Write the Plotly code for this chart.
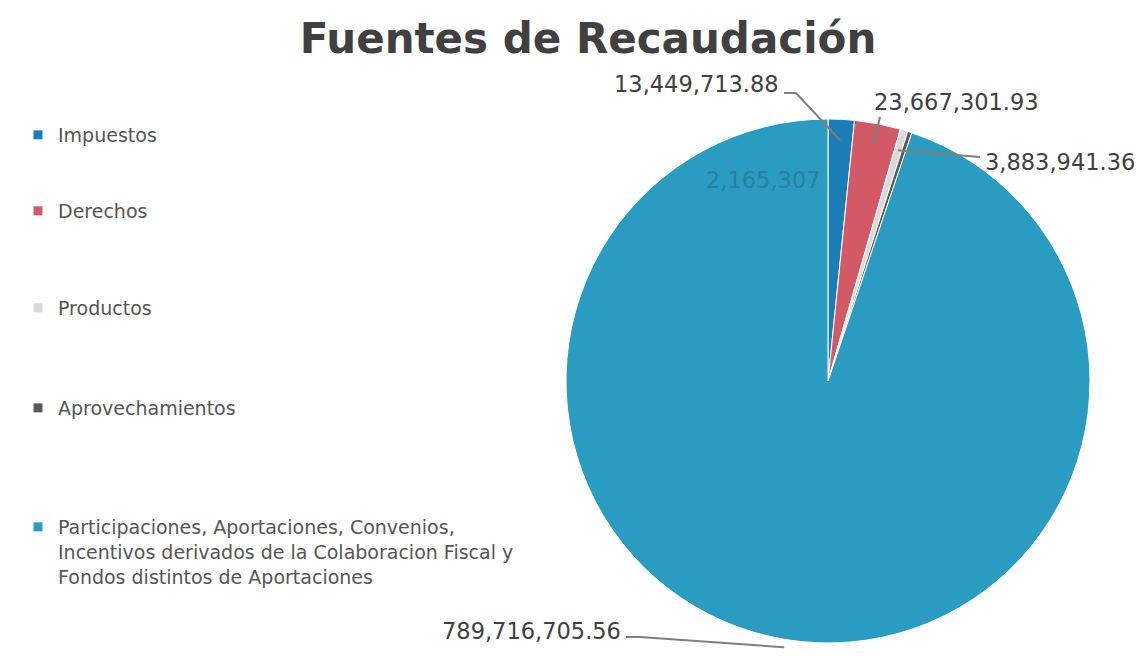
import math
import plotly.graph_objects as go

# ---------------- data ----------------
categories = [
    "Impuestos",
    "Derechos",
    "Productos",
    "Aprovechamientos",
    "Participaciones, Aportaciones, Convenios,<br>Incentivos derivados de la Colaboracion Fiscal y<br>Fondos distintos de Aportaciones",
]
values = [13449713.88, 23667301.93, 3883941.36, 2165307.00, 789716705.56]
value_labels = ["13,449,713.88", "23,667,301.93", "3,883,941.36", "2,165,307", "789,716,705.56"]
colors = ["#1b7db8", "#d25a67", "#d9d9d9", "#595959", "#2a9cc2"]

title_text = "Fuentes de Recaudación"

# ---------------- layout geometry (pixels) ----------------
W, H = 1141, 658
cx, cy, R = 828, 381, 262

def px2paper(x, y):
    return x / W, 1 - y / H

fig = go.Figure()

fig.add_trace(go.Pie(
    labels=categories,
    values=values,
    sort=False,
    direction="clockwise",
    rotation=0,
    marker=dict(colors=colors, line=dict(color="white", width=1)),
    textinfo="none",
    hoverinfo="label+value+percent",
    showlegend=False,
    domain=dict(x=[(cx - R) / W, (cx + R) / W], y=[1 - (cy + R) / H, 1 - (cy - R) / H]),
))

# legend entries as separate legends to match spacing
legend_pos = [(135, "middle", "middle"), (211, "middle", "middle"), (308, "middle", "middle"),
              (408, "middle", "middle"), (508, "top", "top")]
legend_font = dict(family="DejaVu Sans", size=19, color="#555555")
for i, (cat, col) in enumerate(zip(categories, colors)):
    name = "legend" if i == 0 else f"legend{i+1}"
    fig.add_trace(go.Scatter(
        x=[None], y=[None], mode="markers", name=cat,
        marker=dict(symbol="square", size=9, color=col),
        legend=name, showlegend=True, hoverinfo="skip",
    ))
    ypx, yanc, valign = legend_pos[i]
    fig.layout[name] = dict(
        x=18 / W, xanchor="left", y=1 - ypx / H, yanchor=yanc,
        font=legend_font, valign=valign, bgcolor="rgba(0,0,0,0)",
        itemclick=False, itemdoubleclick=False,
    )

# value labels with leader lines; tips computed from data angles
total = sum(values)
mids = []
cum = 0.0
for v in values:
    mids.append((cum + v / 2) / total * 2 * math.pi)
    cum += v

# (text x, text y, xanchor, line start x, y, elbow x, tip radius fraction)
label_specs = {
    0: (781, 84, "right", 784, 93, 796, 0.92),
    1: (872, 102, "left", 880, 117, 880, 0.92),
    2: (983, 162, "left", 980, 157, 980, 0.92),
    4: (623, 631, "right", 626, 637, 640, 1.03),
}
line_color = "#7f7f7f"
for i, (tx, ty, xa, lx, ly, ex, frac) in label_specs.items():
    ax_, ay_ = px2paper(tx, ty)
    fig.add_annotation(x=ax_, y=ay_, xref="paper", yref="paper", text=value_labels[i],
                       showarrow=False, xanchor=xa, yanchor="middle",
                       font=dict(family="DejaVu Sans", size=22.5, color="#404040"))
    tipx = cx + R * frac * math.sin(mids[i])
    tipy = cy - R * frac * math.cos(mids[i])
    p0 = px2paper(lx, ly)
    p1 = px2paper(ex, ly)
    p2 = px2paper(tipx, tipy)
    fig.add_shape(type="path", xref="paper", yref="paper",
                  path=f"M {p0[0]} {p0[1]} L {p1[0]} {p1[1]} L {p2[0]} {p2[1]}",
                  line=dict(color=line_color, width=2))

# Aprovechamientos label (overlapping inside the large slice)
ix, iy = px2paper(763, 180)
fig.add_annotation(x=ix, y=iy, xref="paper", yref="paper", text=value_labels[3],
                   showarrow=False, xanchor="center", yanchor="middle",
                   font=dict(family="DejaVu Sans", size=22.5, color="#2a7e9e"))

fig.update_layout(
    width=W, height=H,
    margin=dict(l=0, r=0, t=0, b=0),
    paper_bgcolor="white", plot_bgcolor="white",
    title=dict(text=f"<b>{title_text}</b>", x=588 / W, xanchor="center",
               y=1 - 38 / H, yanchor="middle",
               font=dict(family="DejaVu Sans", size=42, color="#404040")),
    xaxis=dict(visible=False), yaxis=dict(visible=False),
)

fig.write_html("out.html", config={"displayModeBar": False},
               post_script="document.body.style.margin='0px';")
